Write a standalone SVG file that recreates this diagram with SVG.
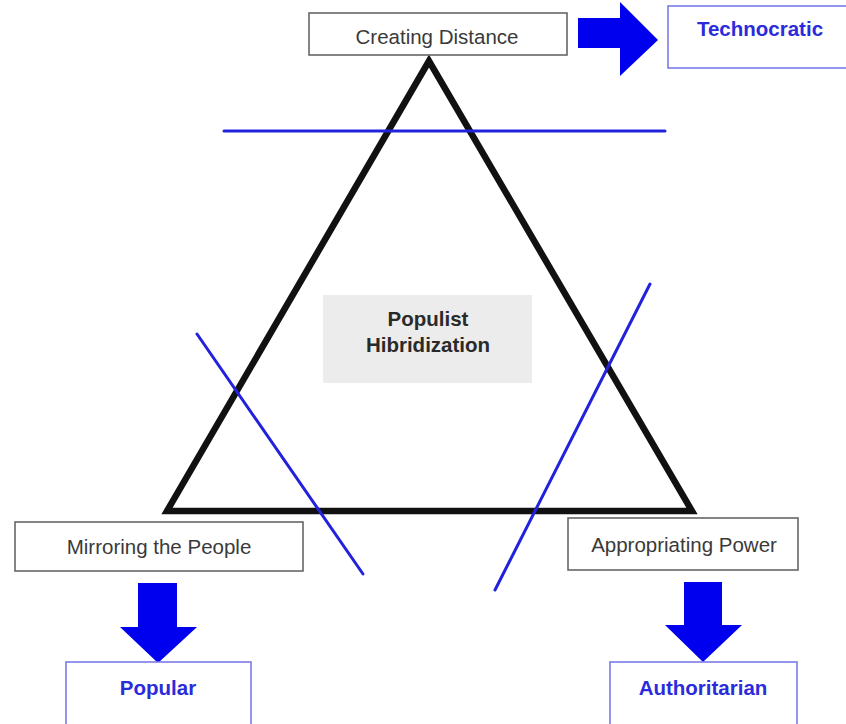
<svg xmlns="http://www.w3.org/2000/svg" width="846" height="724" viewBox="0 0 846 724">
<style>
.box{fill:#fff;stroke:#666;stroke-width:1.6}
.bbox{fill:#fff;stroke:#7b7bea;stroke-width:1.6}
.lbl{font-family:"Liberation Sans",Arial,sans-serif;font-size:20.5px;fill:#3a3a3a;text-anchor:middle}
.blbl{font-family:"Liberation Sans",Arial,sans-serif;font-size:20.5px;font-weight:bold;fill:#2b2bdc;text-anchor:middle}
.cut{stroke:#2222dd;stroke-width:3;stroke-linecap:round}
.arr{fill:#0000ee}
</style>
<rect width="846" height="724" fill="#fff"/>
<g id="triangle">
<polygon points="429,61 167,511 692,511" fill="none" stroke="#111" stroke-width="6.5" stroke-linejoin="miter"/>
</g>
<g id="center">
<rect x="323" y="295" width="209" height="88" fill="#ececec"/>
<text class="lbl" x="428" y="326" style="font-weight:bold;fill:#2a2a2a">Populist</text>
<text class="lbl" x="428" y="352" style="font-weight:bold;fill:#2a2a2a">Hibridization</text>
</g>
<g id="connectors">
<line class="cut" x1="224" y1="131" x2="665" y2="131"/>
<line class="cut" x1="197" y1="334" x2="363" y2="574"/>
<line class="cut" x1="650" y1="284" x2="495" y2="590"/>
<polygon class="arr" points="578,18 620,18 620,2 658,40 620,76 620,48 578,48"/>
<polygon class="arr" points="138,583 177,583 177,627 197,627 158,663 120,627 138,627"/>
<polygon class="arr" points="684,582 722,582 722,625 742,625 703,662 665,625 684,625"/>
</g>
<g id="creating-distance">
<rect class="box" x="309" y="13" width="258" height="42"/>
<text class="lbl" x="437" y="44">Creating Distance</text>
</g>
<g id="technocratic">
<rect class="bbox" x="668" y="6" width="180" height="62"/>
<text class="blbl" x="760" y="36">Technocratic</text>
</g>
<g id="mirroring">
<rect class="box" x="15" y="522" width="288" height="49"/>
<text class="lbl" x="159" y="554">Mirroring the People</text>
</g>
<g id="popular">
<rect class="bbox" x="66" y="662" width="185" height="70"/>
<text class="blbl" x="158" y="695">Popular</text>
</g>
<g id="appropriating">
<rect class="box" x="568" y="518" width="230" height="52"/>
<text class="lbl" x="684" y="552">Appropriating Power</text>
</g>
<g id="authoritarian">
<rect class="bbox" x="610" y="662" width="187" height="70"/>
<text class="blbl" x="703" y="695">Authoritarian</text>
</g>
</svg>
